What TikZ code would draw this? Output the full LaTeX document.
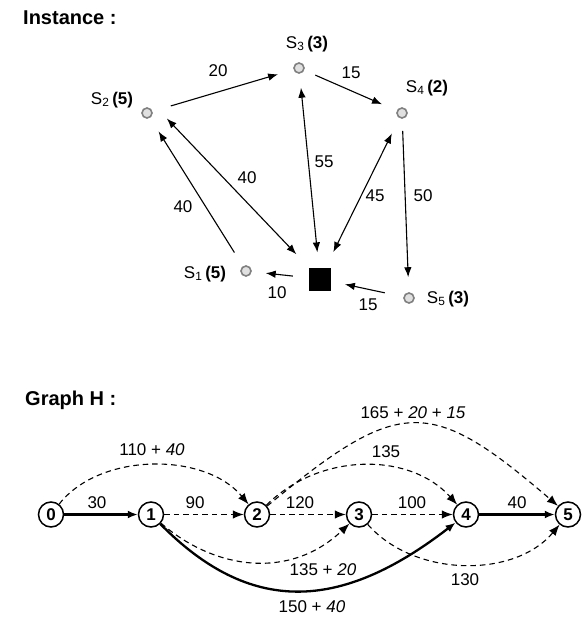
\documentclass[tikz,border=0pt]{standalone}
\usepackage{fontspec}
\setmainfont{Liberation Sans}
\usetikzlibrary{arrows.meta,calc}

\begin{document}
\begin{tikzpicture}[x=1pt,y=-1pt,
  title/.style={anchor=west, inner sep=0, font=\bfseries\fontsize{20}{23}\selectfont},
  lbl/.style={inner sep=0, font=\fontsize{17}{20}\selectfont},
  site/.style={circle, draw=black!50, fill=black!12, line width=1.6pt, minimum size=10pt, inner sep=0},
  depot/.style={rectangle, fill=black, minimum width=22pt, minimum height=23pt, inner sep=0},
  tipI/.tip={Latex[length=10pt,width=7.5pt]},
  link/.style={line width=1.1pt, -tipI},
  both/.style={line width=1.1pt, tipI-tipI},
  vtx/.style={circle, draw, line width=1.5pt, minimum size=25pt, inner sep=0, font=\bfseries\fontsize{17}{20}\selectfont},
  tipH/.tip={Latex[length=11pt,width=8.5pt]},
  solidarc/.style={line width=2.3pt, -{Latex[length=10pt,width=8pt]}},
  dasharc/.style={line width=1.1pt, dash pattern=on 5.5pt off 4pt, -tipH}]

\path[use as bounding box, fill=white] (0,0) rectangle (581,618);

% ---------- Instance ----------
\node[title] (tinst) at (23,18) {Instance :};

\node[site] (s1) at (246,271) {};
\node[site] (s2) at (147,113) {};
\node[site] (s3) at (299,68) {};
\node[site] (s4) at (402,113) {};
\node[site] (s5) at (409,298) {};
\node[depot] (d) at (320,279) {};

\node[lbl] (ls1) at (205,274) {S\textsubscript{1}\,\textbf{(5)}};
\node[lbl] (ls2) at (112,100) {S\textsubscript{2}\,\textbf{(5)}};
\node[lbl] (ls3) at (307,44) {S\textsubscript{3}\,\textbf{(3)}};
\node[lbl] (ls4) at (427,88) {S\textsubscript{4}\,\textbf{(2)}};
\node[lbl] (ls5) at (448,299) {S\textsubscript{5}\,\textbf{(3)}};

\draw[link, shorten <=19pt, shorten >=16pt] (s2) -- (s3);
\draw[link, shorten <=12pt, shorten >=16pt] (s3) -- (s4);
\draw[both, shorten <=15pt, shorten >=14pt] (d) -- (s3);
\draw[both, shorten <=17pt, shorten >=17pt] (d) -- (s4);
\draw[both, shorten <=18pt, shorten >=20pt] (d.north west) -- ($(s2)+(6,-9)$);
\draw[link, shorten <=16pt, shorten >=16pt] (s1) -- (s2);
\draw[link, shorten <=12pt, shorten >=15pt] (s4) -- (s5);
\draw[link, shorten <=16pt, shorten >=14pt] (d) -- (s1);
\draw[link, shorten <=19pt, shorten >=14pt] (s5) -- (d);

\node[lbl] (w23) at (218,71) {20};
\node[lbl] (w34) at (351,73) {15};
\node[lbl] (w03) at (324,162) {55};
\node[lbl] (w04) at (375,196) {45};
\node[lbl] (w45) at (423,196) {50};
\node[lbl] (w02) at (247,178) {40};
\node[lbl] (w12) at (183,207) {40};
\node[lbl] (w01) at (277,293) {10};
\node[lbl] (w50) at (368,305) {15};

% ---------- Graph H ----------
\node[title] (tgraph) at (25,400) {Graph H :};

\node[vtx] (h0) at (51,514.5) {0};
\node[vtx] (h1) at (151,514.5) {1};
\node[vtx] (h2) at (257,514.5) {2};
\node[vtx] (h3) at (359,514.5) {3};
\node[vtx] (h4) at (466,514.5) {4};
\node[vtx] (h5) at (568,514.5) {5};

\draw[solidarc] (h0) -- (h1);
\draw[dasharc] (h1) -- (h2);
\draw[dasharc] (h2) -- (h3);
\draw[dasharc] (h3) -- (h4);
\draw[solidarc] (h4) -- (h5);

\draw[dasharc] (h0) .. controls (100,452) and (205,452) .. (h2);
\draw[dasharc] (h2) .. controls (320,452) and (410,452) .. (h4);
\draw[dasharc] (h2) .. controls (400,396) and (430,396) .. (h5);
\draw[dasharc] (h1) .. controls (215,570) and (290,580) .. (h3);
\draw[solidarc] (h1) .. controls (250,615) and (340,612) .. (h4);
\draw[dasharc] (h3) .. controls (415,578) and (515,578) .. (h5);

\node[lbl] (c01) at (97,503) {30};
\node[lbl] (c12) at (195,503) {90};
\node[lbl] (c23) at (300,503) {120};
\node[lbl] (c34) at (412,503) {100};
\node[lbl] (c45) at (517,503) {40};
\node[lbl] (c02) at (152,450) {110 + \textit{40}};
\node[lbl] (c24) at (386,452) {135};
\node[lbl] (c25) at (413,413) {165 + \textit{20} + \textit{15}};
\node[lbl] (c13) at (323,570) {135 + \textit{20}};
\node[lbl] (c35) at (465,580) {130};
\node[lbl] (c14) at (312,607) {150 + \textit{40}};

\end{tikzpicture}
\end{document}
